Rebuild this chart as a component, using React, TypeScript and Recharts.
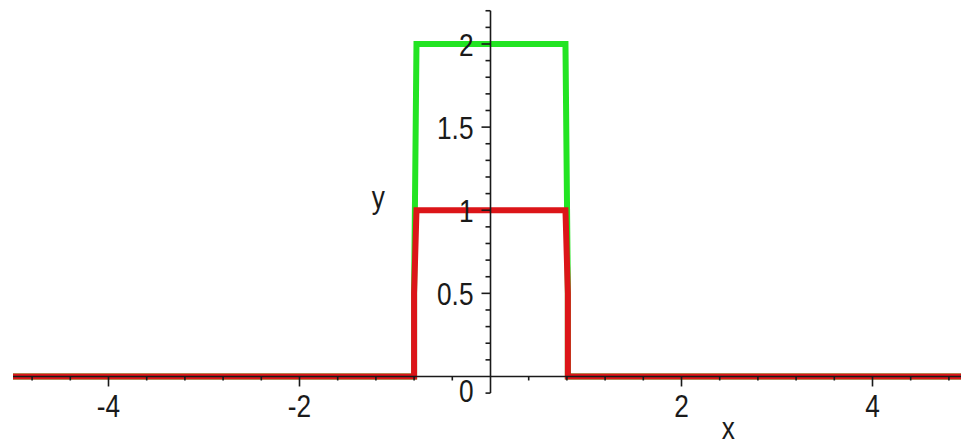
import React from 'react';
import { LineChart, Line, XAxis, YAxis, ReferenceLine, ReferenceDot } from 'recharts';

// Series (Maple step pulses)
const greenX = [-5, -0.8, -0.8, -0.775, 0.785, 0.81, 0.81, 5];
const greenY = [0, 0, 0.5, 2, 2, 0.5, 0, 0];
const redX = [-5, -0.8, -0.8, -0.775, 0.785, 0.81, 0.81, 5];
const redY = [0, 0, 0.5, 1, 1, 0.5, 0, 0];

// Axis ticks
const xMajorTicks = [-4, -2, 2, 4];
const xMajorLabels = ['-4', '-2', '2', '4'];
const xMinorTicks = [-4.8, -4.4, -3.6, -3.2, -2.8, -2.4, -1.6, -1.2, -0.8, -0.4, 0.4, 0.8, 1.2, 1.6, 2.4, 2.8, 3.2, 3.6, 4.4, 4.8];
const yMajorTicks = [0.5, 1, 1.5, 2];
const yMajorLabels = ['0.5', '1', '1.5', '2'];
const yMinorTicks = [-0.1, 0.1, 0.2, 0.3, 0.4, 0.6, 0.7, 0.8, 0.9, 1.1, 1.2, 1.3, 1.4, 1.6, 1.7, 1.8, 1.9, 2.1, 2.2];
const yZeroLabel = '0';

const greenData = greenX.map((x, i) => ({ x, y: greenY[i] }));
const redData = redX.map((x, i) => ({ x, y: redY[i] }));

const FONT = '"Liberation Sans", Arial, sans-serif';
const FS = 32;
const SX = 0.82;
const INK = '#1a1a1a';

const Txt = ({ x, y, anchor, children }: any) => (
  <text
    transform={`translate(${x},${y}) scale(${SX},1)`}
    textAnchor={anchor}
    fontFamily={FONT}
    fontSize={FS}
    fill={INK}
  >
    {children}
  </text>
);

const XTick = ({ cx, cy, major, label }: any) => (
  <g>
    <line x1={cx} y1={cy} x2={cx} y2={cy + (major ? 10 : 4)} stroke={INK} strokeWidth={1.6} />
    {label ? <Txt x={cx} y={cy + 41} anchor="middle">{label}</Txt> : null}
  </g>
);

const YTick = ({ cx, cy, major, label, dy }: any) => (
  <g>
    <line x1={cx} y1={cy} x2={cx - (major ? 9 : 5)} y2={cy} stroke={INK} strokeWidth={1.6} />
    {label ? <Txt x={cx - 17} y={cy + (dy ?? 12)} anchor="end">{label}</Txt> : null}
  </g>
);

export default function App() {
  return (
    <div style={{ position: 'absolute', left: 0, top: 0, width: 961, height: 447, overflow: 'hidden', background: '#fff' }}>
      <LineChart width={968} height={447} margin={{ top: 10.75, right: 0, bottom: 53.9, left: 13 }}>
        <XAxis type="number" dataKey="x" domain={[-5, 5]} hide allowDataOverflow />
        <YAxis type="number" dataKey="y" domain={[-0.1, 2.2]} hide allowDataOverflow />
        <Line data={greenData} dataKey="y" type="linear" stroke="#22e422" strokeWidth={6} dot={false} isAnimationActive={false} />
        <Line data={redData} dataKey="y" type="linear" stroke="#dc1518" strokeWidth={6} dot={false} isAnimationActive={false} />
        <ReferenceLine y={0} stroke={INK} strokeWidth={1.6} ifOverflow="visible" zIndex={500} />
        <ReferenceLine x={0} stroke={INK} strokeWidth={1.6} ifOverflow="visible" zIndex={500} />
        {xMinorTicks.map((v) => (
          <ReferenceDot key={'xm' + v} x={v} y={0} r={0} ifOverflow="visible" zIndex={500}
            shape={(p: any) => <XTick cx={p.cx} cy={p.cy} major={false} />} />
        ))}
        {xMajorTicks.map((v, i) => (
          <ReferenceDot key={'xM' + v} x={v} y={0} r={0} ifOverflow="visible" zIndex={500}
            shape={(p: any) => <XTick cx={p.cx} cy={p.cy} major label={xMajorLabels[i]} />} />
        ))}
        {yMinorTicks.map((v) => (
          <ReferenceDot key={'ym' + v} x={0} y={v} r={0} ifOverflow="visible" zIndex={500}
            shape={(p: any) => <YTick cx={p.cx} cy={p.cy} major={false} />} />
        ))}
        {yMajorTicks.map((v, i) => (
          <ReferenceDot key={'yM' + v} x={0} y={v} r={0} ifOverflow="visible" zIndex={500}
            shape={(p: any) => <YTick cx={p.cx} cy={p.cy} major label={yMajorLabels[i]} />} />
        ))}
        <ReferenceDot x={0} y={0} r={0} ifOverflow="visible" zIndex={500}
          shape={(p: any) => <Txt x={p.cx - 17} y={p.cy + 26} anchor="end">{yZeroLabel}</Txt>} />
        <ReferenceDot x={-1.175} y={1} r={0} ifOverflow="visible" zIndex={500}
          shape={(p: any) => <Txt x={p.cx} y={p.cy - 2} anchor="middle">y</Txt>} />
        <ReferenceDot x={2.49} y={0} r={0} ifOverflow="visible" zIndex={500}
          shape={(p: any) => <Txt x={p.cx} y={p.cy + 63} anchor="middle">x</Txt>} />
      </LineChart>
    </div>
  );
}
